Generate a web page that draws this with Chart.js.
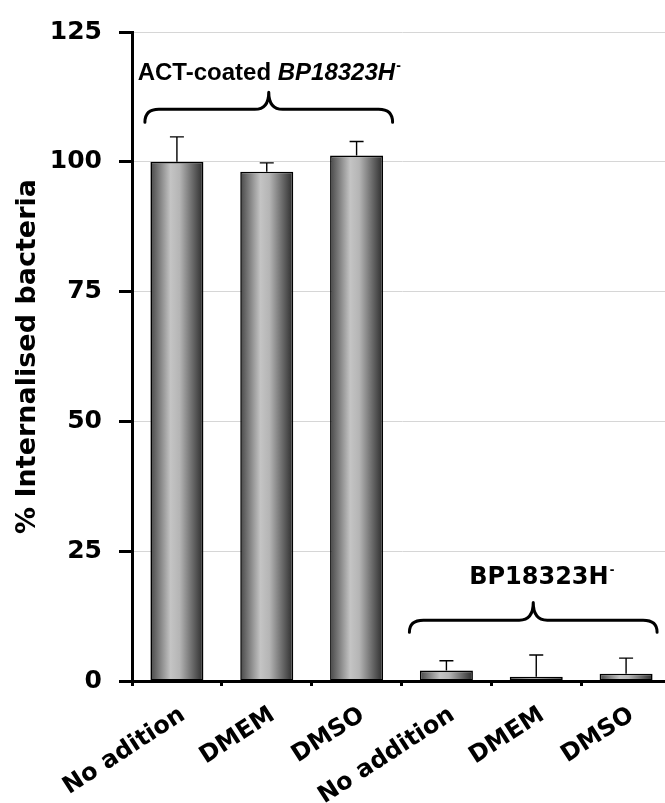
<!DOCTYPE html>
<html>
<head>
<meta charset="utf-8">
<script src="https://cdn.jsdelivr.net/npm/chart.js@4"></script>
<style>
  html, body { margin: 0; padding: 0; background: #fff; overflow: hidden; }
  #wrap { position: relative; width: 671px; height: 803px; }
</style>
</head>
<body>
<div id="wrap"><canvas id="internalChart"></canvas></div>
<script>
// values
const categories = ['No adition', 'DMEM', 'DMSO', 'No addition', 'DMEM', 'DMSO'];
const internalised = [100, 98.1, 101.2, 2.0, 0.8, 1.4];
const errors = [4.8, 1.7, 2.7, 1.9, 4.2, 3.0];
const yTicks = [0, 25, 50, 75, 100, 125];

// brace annotations over the two groups (y given in axis units)
const braces = [
  { from: 0, to: 2, shift: 2, ends: 107.6, mid: 110.1, tip: 113.4, textY: 115.8, textDx: 0,
    parts: [['ACT-coated ', 'bold 24px "Liberation Sans"'], ['BP18323H', 'italic bold 24px "Liberation Sans"']] },
  { from: 3, to: 5, shift: -3, ends: 9.4, mid: 11.7, tip: 15.1, textY: 18.6, textDx: 8,
    parts: [['BP18323H', 'bold 24px "DejaVu Sans"']] }
];

const axisFont = { family: '"DejaVu Sans"', weight: 'bold', size: 25 };

function barGradient(c) {
  const chart = c.chart;
  const xs = chart.scales.x;
  if (!chart.chartArea || !xs || c.dataIndex === undefined) return '#999';
  const cx = xs.getPixelForValue(c.dataIndex);
  const w = (xs.width / categories.length) * 0.59;
  const g = chart.ctx.createLinearGradient(cx - w / 2, 0, cx + w / 2, 0);
  g.addColorStop(0, '#474747');
  g.addColorStop(0.38, '#c4c4c4');
  g.addColorStop(0.55, '#b5b5b5');
  g.addColorStop(1, '#2b2b2b');
  return g;
}

const errorBars = {
  id: 'errorBars',
  afterDatasetsDraw(chart) {
    const { ctx, scales: { y } } = chart;
    const meta = chart.getDatasetMeta(0);
    ctx.save();
    ctx.strokeStyle = '#000';
    ctx.lineWidth = 1.4;
    meta.data.forEach((bar, i) => {
      const top = y.getPixelForValue(internalised[i] + errors[i]);
      ctx.beginPath();
      ctx.moveTo(bar.x, bar.y);
      ctx.lineTo(bar.x, top);
      ctx.moveTo(bar.x - 7, top);
      ctx.lineTo(bar.x + 7, top);
      ctx.stroke();
    });
    ctx.restore();
  }
};

const bracePlugin = {
  id: 'braces',
  afterDraw(chart) {
    const { ctx, scales: { x, y } } = chart;
    braces.forEach(b => {
      const a = x.getPixelForValue(b.from), z = x.getPixelForValue(b.to);
      const x1 = a - 34 + b.shift, x2 = z + 34 + b.shift, xc = (a + z) / 2 + b.shift;
      const yEnd = y.getPixelForValue(b.ends);
      const yMid = y.getPixelForValue(b.mid);
      const yTip = y.getPixelForValue(b.tip);
      const r = 14;
      ctx.save();
      ctx.beginPath();
      ctx.moveTo(x1, yEnd);
      ctx.quadraticCurveTo(x1, yMid, x1 + r, yMid);
      ctx.lineTo(xc - r, yMid);
      ctx.quadraticCurveTo(xc, yMid, xc, yTip);
      ctx.quadraticCurveTo(xc, yMid, xc + r, yMid);
      ctx.lineTo(x2 - r, yMid);
      ctx.quadraticCurveTo(x2, yMid, x2, yEnd);
      ctx.lineWidth = 3;
      ctx.strokeStyle = '#000';
      ctx.lineCap = 'round';
      ctx.lineJoin = 'round';
      ctx.stroke();

      // label with superscript minus
      const supFont = 'bold 14px "Liberation Sans"';
      let total = 0;
      b.parts.forEach(p => { ctx.font = p[1]; total += ctx.measureText(p[0]).width; });
      ctx.font = supFont;
      total += ctx.measureText('-').width;
      let tx = xc + b.textDx - total / 2;
      const ty = y.getPixelForValue(b.textY);
      ctx.fillStyle = '#000';
      ctx.textBaseline = 'alphabetic';
      ctx.textAlign = 'left';
      b.parts.forEach(p => {
        ctx.font = p[1];
        ctx.fillText(p[0], tx, ty);
        tx += ctx.measureText(p[0]).width;
      });
      ctx.font = supFont;
      ctx.fillText('-', tx + 1, ty - 10);
      ctx.restore();
    });
  }
};

new Chart(document.getElementById('internalChart'), {
  type: 'bar',
  data: {
    labels: categories,
    datasets: [{
      data: internalised,
      backgroundColor: barGradient,
      borderColor: '#000',
      borderWidth: 1.6,
      borderSkipped: false,
      categoryPercentage: 1,
      barPercentage: 0.59
    }]
  },
  options: {
    responsive: true,
    maintainAspectRatio: false,
    animation: false,
    layout: { padding: { top: 27, left: 0, right: 0, bottom: 0 } },
    plugins: { legend: { display: false }, tooltip: { enabled: false } },
    scales: {
      y: {
        min: 0,
        max: 125,
        afterBuildTicks: s => { s.ticks = yTicks.map(v => ({ value: v })); },
        afterFit: s => { s.width = 132; },
        border: { color: '#000', width: 3 },
        grid: { color: '#d6d6d6', lineWidth: 1, tickColor: '#000', tickWidth: 3, tickLength: 13 },
        ticks: { color: '#000', font: axisFont, padding: 17 },
        title: {
          display: true,
          text: '% Internalised bacteria',
          color: '#000',
          font: { family: '"DejaVu Sans"', weight: 'bold', size: 27 },
          padding: { top: 12, bottom: 0 }
        }
      },
      x: {
        afterFit: s => { s.height = 122; },
        border: { color: '#000', width: 3 },
        grid: { drawOnChartArea: false, tickColor: '#000', tickWidth: 3, tickLength: 5 },
        ticks: {
          color: '#000',
          font: { family: '"DejaVu Sans"', weight: 'bold', size: 24 },
          minRotation: 33,
          maxRotation: 33,
          padding: 15,
          labelOffset: 6
        }
      }
    }
  },
  plugins: [errorBars, bracePlugin]
});
</script>
</body>
</html>
